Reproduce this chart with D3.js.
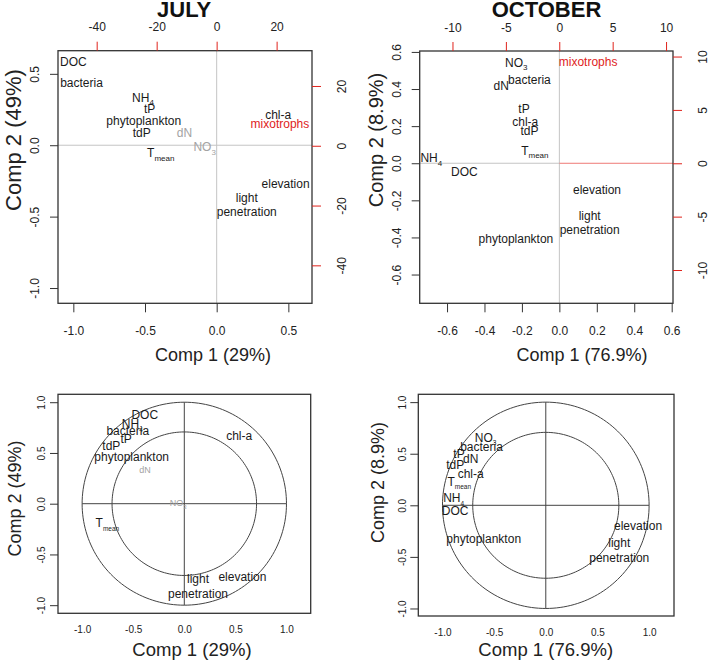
<!DOCTYPE html>
<html><head><meta charset="utf-8">
<script src="https://cdn.jsdelivr.net/npm/d3@7"></script>
<style>
body{margin:0;background:#fff}
svg{display:block;font-family:"Liberation Sans",Arial,sans-serif}
</style>
</head><body>
<svg id="c" width="708" height="661"></svg>
<script>
// ---------------- data ----------------
const variables = ["DOC","bacteria","NH4","tP","phytoplankton","tdP","dN","NO3","chl-a","Tmean","elevation","light penetration"];
// biplot positions (top panels)
const julyComp1 = [-1.0,-0.943,-0.514,-0.468,-0.509,-0.523,-0.225,-0.084,0.429,-0.39,0.481,0.21];
const julyComp2 = [0.585,0.438,0.333,0.252,0.172,0.088,0.084,-0.014,0.212,-0.056,-0.273,-0.418];
const octComp1  = [-0.507,-0.16,-0.684,-0.189,-0.232,-0.16,-0.311,-0.23,-0.182,-0.131,0.201,0.162];
const octComp2  = [-0.047,0.449,0.027,0.293,-0.41,0.174,0.418,0.542,0.224,0.068,-0.144,-0.321];
// correlation circle positions (bottom panels)
const julyCor1 = [-0.387,-0.553,-0.509,-0.570,-0.515,-0.714,-0.385,-0.059,0.537,-0.753,0.569,0.134];
const julyCor2 = [0.874,0.716,0.785,0.641,0.463,0.568,0.332,0.01,0.667,-0.193,-0.725,-0.813];
const octCor1  = [-0.877,-0.622,-0.892,-0.84,-0.601,-0.876,-0.727,-0.582,-0.727,-0.838,0.893,0.711];
const octCor2  = [-0.052,0.568,0.068,0.504,-0.329,0.39,0.455,0.659,0.303,0.229,-0.194,-0.433];
const julyGreyVars = ["dN","NO3"];
// supplementary (red) variable, on secondary axes
const mixoLabel = "mixotrophs";
const julyMixo = [21.1, 7.3];
const octMixo = [2.7, 9.5];
// ticks
const julyTicks = [-1,-0.5,0,0.5];
const julyTicks2 = [-40,-20,0,20];
const octTicks = [-0.6,-0.4,-0.2,0,0.2,0.4,0.6];
const octTicks2 = [-10,-5,0,5,10];
const circleTicks = [-1,-0.5,0,0.5,1];
const circleRadii = [1, Math.SQRT1_2];
const titles = ["JULY","OCTOBER"];
const xTitles = ["Comp 1 (29%)","Comp 1 (76.9%)"];
const yTitles = ["Comp 2 (49%)","Comp 2 (8.9%)"];

// ---------------- drawing ----------------
const svg = d3.select("#c");
const BLACK = "#1a1a1a", GREY = "#a3a3a3", RED = "#e0231c", BOX = "#333";
const fmt1 = v => v.toFixed(1);
const fmt0 = v => String(v);

function axis(g, side, scale, ticks, o) {
  const gen = side==="bottom"?d3.axisBottom(scale):side==="top"?d3.axisTop(scale):side==="left"?d3.axisLeft(scale):d3.axisRight(scale);
  gen.tickValues(ticks).tickSize(o.len).tickSizeOuter(0).tickPadding(0).tickFormat(o.fmt);
  g.call(gen);
  g.select(".domain").remove();
  g.attr("font-family", null).attr("font-size", null);
  g.selectAll(".tick line").attr("stroke", o.tickColor).attr("stroke-width", 1);
  if (o.len === 0) g.selectAll(".tick line").remove();
  const t = g.selectAll(".tick text").attr("fill", "#222").attr("font-size", o.size)
    .attr("text-anchor", "middle").attr("dy", "0.35em");
  if (side === "bottom") t.attr("x", 0).attr("y", o.off);
  if (side === "top") t.attr("x", 0).attr("y", -o.off);
  if (side === "left") t.attr("x", null).attr("y", null).attr("transform", `translate(${-o.off},0) rotate(-90)`);
  if (side === "right") t.attr("x", null).attr("y", null).attr("transform", `translate(${o.off},0) rotate(-90)`);
}

function label(g, name, cx, cy, size, color, subSize, lh) {
  const t = g.append("text").attr("text-anchor", "middle").attr("fill", color).attr("font-size", size);
  const base = cy + 0.35 * size;
  const subs = {NH4: ["NH","4"], NO3: ["NO","3"], Tmean: ["T","mean"]};
  if (name.indexOf(" ") > 0) {
    const parts = name.split(" ");
    t.append("tspan").attr("x", cx).attr("y", base - lh / 2).text(parts[0]);
    t.append("tspan").attr("x", cx).attr("y", base + lh / 2).text(parts[1]);
  } else if (subs[name]) {
    t.attr("x", cx).attr("y", base);
    t.append("tspan").text(subs[name][0]);
    t.append("tspan").attr("font-size", subSize).attr("dy", size * 0.3).text(subs[name][1]);
  } else {
    t.attr("x", cx).attr("y", base).text(name);
  }
}

function panelFrame(p) {
  const x = d3.scaleLinear().domain(p.xdom).range([p.l, p.r]);
  const y = d3.scaleLinear().domain(p.ydom).range([p.b, p.t]);
  return {x, y};
}

// ---- top panels (biplots) ----
const topPanels = [
  {l:58, r:312, t:50.7, b:303.3, xdom:[-1.107,0.665], ydom:[-1.107,0.662], x2dom:[-52.9,31.8], y2dom:[-52.7,31.8],
   c1: julyComp1, c2: julyComp2, ticks: julyTicks, ticksY: julyTicks, ticks2: julyTicks2, mixo: julyMixo, grey: julyGreyVars,
   title: titles[0], xt: xTitles[0], yt: yTitles[0], titleX: 184.2, xtX: 213, ytX: 13, ytY: 140, ytSize: 22, redZero: false},
  {l:419.7, r:673, t:51, b:303.3, xdom:[-0.746,0.607], ydom:[-0.755,0.605], x2dom:[-13.07,10.65], y2dom:[-13.12,10.52],
   c1: octComp1, c2: octComp2, ticks: octTicks, ticksY: octTicks, ticks2: octTicks2, mixo: octMixo, grey: [],
   title: titles[1], xt: xTitles[1], yt: yTitles[1], titleX: 546.5, xtX: 582, ytX: 376, ytY: 140, ytSize: 20, redZero: true}
];

topPanels.forEach(p => {
  const {x, y} = panelFrame(p);
  const x2 = d3.scaleLinear().domain(p.x2dom).range([p.l, p.r]);
  const y2 = d3.scaleLinear().domain(p.y2dom).range([p.b, p.t]);
  const g = svg.append("g");
  // zero lines
  g.append("line").attr("x1", x(0)).attr("x2", x(0)).attr("y1", p.t).attr("y2", p.b).attr("stroke", "#c4c4c4").attr("stroke-width", 1);
  g.append("line").attr("x1", p.l).attr("x2", p.redZero ? x(0) : p.r).attr("y1", y(0)).attr("y2", y(0)).attr("stroke", "#c4c4c4").attr("stroke-width", 1);
  if (p.redZero) g.append("line").attr("x1", x(0)).attr("x2", p.r).attr("y1", y2(0)).attr("y2", y2(0)).attr("stroke", "#ee7a76").attr("stroke-width", 1);
  // box
  g.append("rect").attr("x", p.l).attr("y", p.t).attr("width", p.r - p.l).attr("height", p.b - p.t)
    .attr("fill", "none").attr("stroke", BOX).attr("stroke-width", 1.3);
  // axes
  axis(g.append("g").attr("transform", `translate(0,${p.b})`), "bottom", x, p.ticks, {len:9, fmt:fmt1, tickColor:BOX, size:12, off:28});
  axis(g.append("g").attr("transform", `translate(${p.l},0)`), "left", y, p.ticksY, {len:8, fmt:fmt1, tickColor:BOX, size:12, off:23});
  axis(g.append("g").attr("transform", `translate(0,${p.t})`), "top", x2, p.ticks2, {len:9, fmt:fmt0, tickColor:RED, size:12, off:23.5});
  axis(g.append("g").attr("transform", `translate(${p.r},0)`), "right", y2, p.ticks2, {len:9, fmt:fmt0, tickColor:RED, size:12, off:29.5});
  // labels
  variables.forEach((v, i) => {
    label(g, v, x(p.c1[i]), y(p.c2[i]), 12, p.grey.includes(v) ? GREY : BLACK, 8, 14.6);
  });
  label(g, mixoLabel, x2(p.mixo[0]), y2(p.mixo[1]), 12, RED, 8, 14.6);
  // titles
  g.append("text").attr("x", p.titleX).attr("y", 9.5).attr("dy", "0.35em").attr("text-anchor", "middle")
    .attr("font-size", 22).attr("font-weight", "bold").attr("fill", "#111").text(p.title);
  g.append("text").attr("x", p.xtX).attr("y", 355).attr("dy", "0.35em").attr("text-anchor", "middle")
    .attr("font-size", 18).attr("fill", "#222").text(p.xt);
  g.append("text").attr("transform", `translate(${p.ytX},${p.ytY}) rotate(-90)`).attr("dy", "0.35em").attr("text-anchor", "middle")
    .attr("font-size", p.ytSize).attr("fill", "#222").text(p.yt);
});

// ---- bottom panels (correlation circles) ----
const circlePanels = [
  {l:58, r:310.7, t:394.3, b:613.3, xdom:[-1.236,1.237], ydom:[-1.08,1.078], c1: julyCor1, c2: julyCor2, small: julyGreyVars,
   xt: xTitles[0], yt: yTitles[0], xtX: 192, xtY: 650, ytX: 15, ytY: 498.5, botOff: 16},
  {l:418.3, r:674, t:394.3, b:616, xdom:[-1.234,1.241], ydom:[-1.073,1.076], c1: octCor1, c2: octCor2, small: [],
   xt: xTitles[1], yt: yTitles[1], xtX: 545.7, xtY: 649.5, ytX: 378, ytY: 482.5, botOff: 16.5}
];
const angles = d3.range(0, 361, 2).map(a => a * Math.PI / 180);

circlePanels.forEach(p => {
  const {x, y} = panelFrame(p);
  const g = svg.append("g");
  g.append("rect").attr("x", p.l).attr("y", p.t).attr("width", p.r - p.l).attr("height", p.b - p.t)
    .attr("fill", "none").attr("stroke", BOX).attr("stroke-width", 1.3);
  circleRadii.forEach(r => {
    const line = d3.line().x(a => x(r * Math.cos(a))).y(a => y(r * Math.sin(a)));
    g.append("path").attr("d", line(angles)).attr("fill", "none").attr("stroke", "#444").attr("stroke-width", 1);
  });
  g.append("line").attr("x1", x(-1)).attr("x2", x(1)).attr("y1", y(0)).attr("y2", y(0)).attr("stroke", "#444").attr("stroke-width", 1);
  g.append("line").attr("x1", x(0)).attr("x2", x(0)).attr("y1", y(-1)).attr("y2", y(1)).attr("stroke", "#444").attr("stroke-width", 1);
  axis(g.append("g").attr("transform", `translate(0,${p.b})`), "bottom", x, circleTicks, {len:0, fmt:fmt1, tickColor:BOX, size:10, off:p.botOff});
  axis(g.append("g").attr("transform", `translate(${p.l},0)`), "left", y, circleTicks, {len:8, fmt:fmt1, tickColor:BOX, size:10, off:16.3});
  variables.forEach((v, i) => {
    const isSmall = p.small.includes(v);
    label(g, v, x(p.c1[i]), y(p.c2[i]), isSmall ? 9 : 12, isSmall ? GREY : BLACK, isSmall ? 6 : 6.5, 15);
  });
  g.append("text").attr("x", p.xtX).attr("y", p.xtY).attr("dy", "0.35em").attr("text-anchor", "middle")
    .attr("font-size", 18.5).attr("fill", "#222").text(p.xt);
  g.append("text").attr("transform", `translate(${p.ytX},${p.ytY}) rotate(-90)`).attr("dy", "0.35em").attr("text-anchor", "middle")
    .attr("font-size", 18).attr("fill", "#222").text(p.yt);
});
</script>
</body></html>
